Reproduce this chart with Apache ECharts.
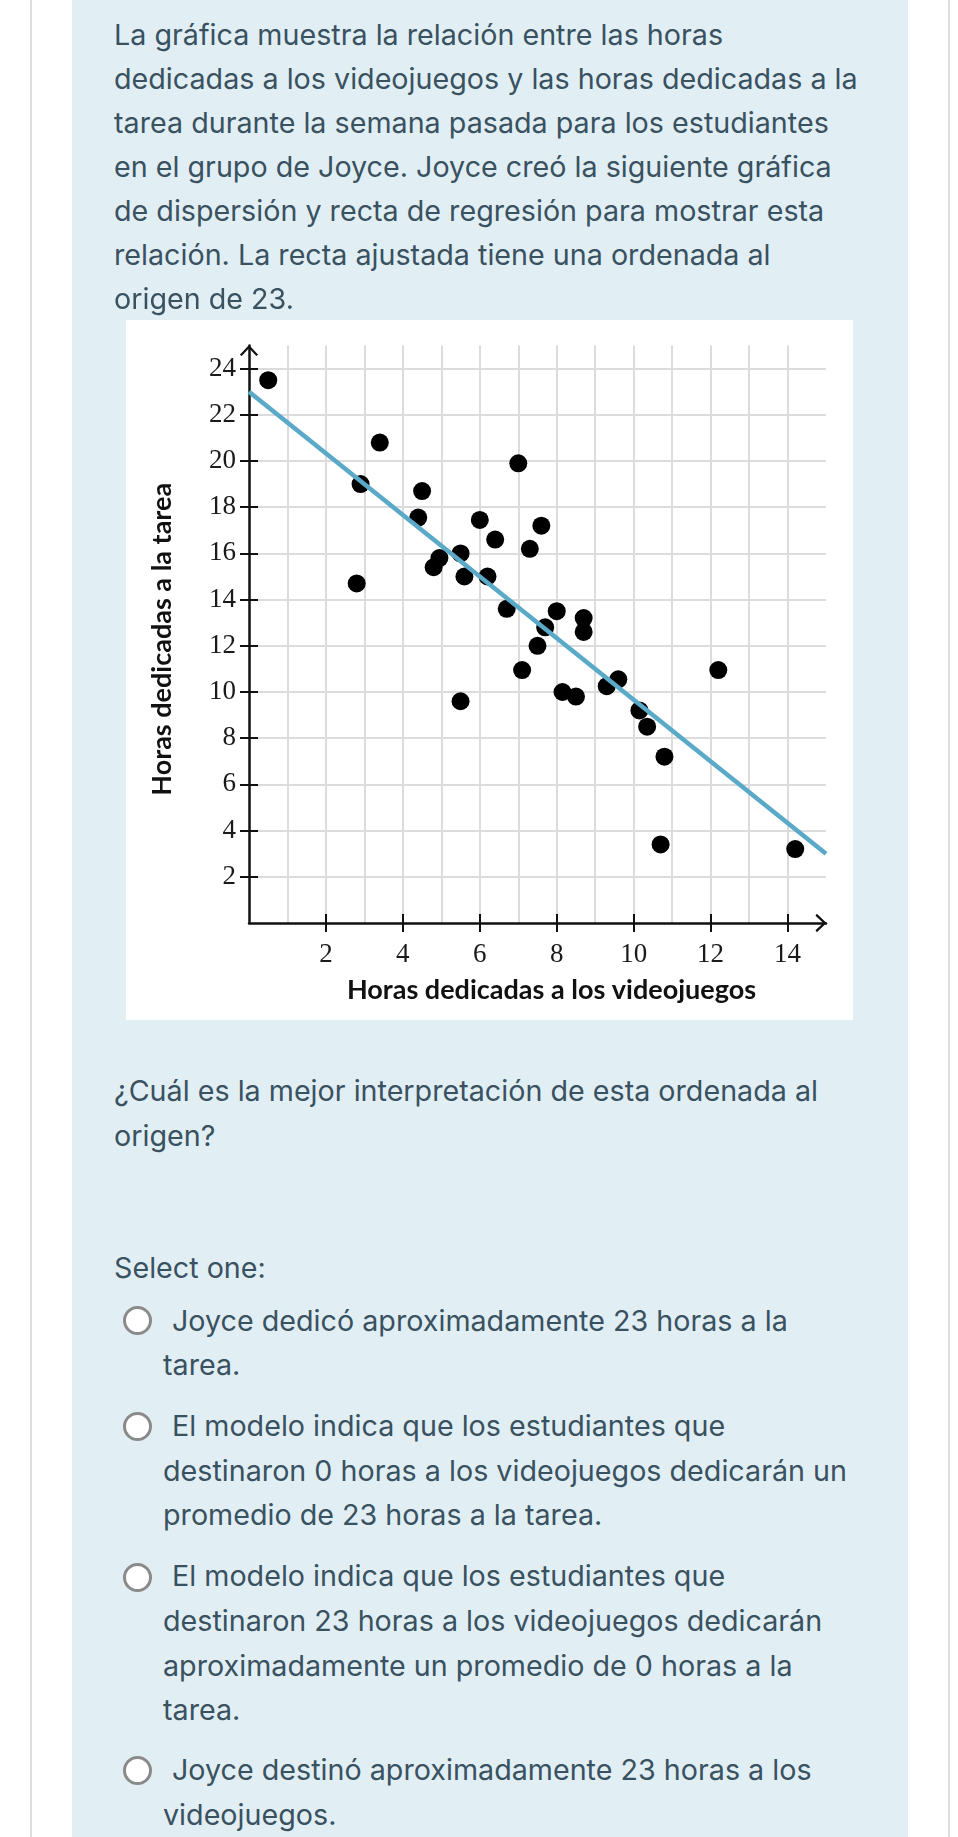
<!DOCTYPE html>
<html>
<head>
<meta charset="utf-8">
<script src="https://cdn.jsdelivr.net/npm/echarts@6/dist/echarts.min.js"></script>
<style>
html,body{margin:0;padding:0;background:#fff;}
#page{position:relative;width:958px;height:1837px;overflow:hidden;background:#fff;}
.border{position:absolute;top:0;width:2px;height:1837px;background:#dedede;}
#panel{position:absolute;left:72px;top:0;width:836px;height:1837px;background:#e1eff5;}
.t{position:absolute;white-space:nowrap;color:#3a5160;font-family:Inter,'Noto Sans',sans-serif;line-height:44px;height:44px;}
.radio{position:absolute;width:23px;height:23px;border:3px solid #8a8a8a;border-radius:50%;background:#fff;}
#chart{position:absolute;left:126px;top:320px;width:727px;height:700px;background:#fff;}
</style>
</head>
<body>
<div id="page">
  <div class="border" style="left:30px"></div>
  <div class="border" style="left:948px"></div>
  <div id="panel"></div>
  <div id="chart"></div>
</div>
<script>
// ---- chart data ----
const xTickLabels = [2, 4, 6, 8, 10, 12, 14];
const yTickLabels = [2, 4, 6, 8, 10, 12, 14, 16, 18, 20, 22, 24];
const xRange = [0, 15];
const yRange = [0, 25];
const videoHours = [0.5, 3.4, 2.9, 4.5, 7.0, 4.4, 6.0, 7.6, 6.4, 7.3, 5.5, 4.95, 4.8, 5.6, 6.2, 2.8, 6.7,
  8.0, 8.7, 8.7, 7.7, 7.5, 7.1, 5.5, 8.15, 8.5, 9.3, 9.6, 10.15, 10.35, 10.8, 12.2, 10.7, 14.2];
const homeworkHours = [23.5, 20.8, 19.0, 18.7, 19.9, 17.55, 17.45, 17.2, 16.6, 16.2, 16.0, 15.8, 15.4, 15.0, 15.0, 14.7, 13.6,
  13.5, 13.2, 12.6, 12.8, 12.0, 10.95, 9.6, 10.0, 9.8, 10.25, 10.55, 9.2, 8.5, 7.2, 10.95, 3.4, 3.2];
const intercept = 23;
const slope = -4 / 3;
const xTitle = 'Horas dedicadas a los videojuegos';
const yTitle = 'Horas dedicadas a la tarea';

// ---- page text ----
const textLines = [
  ['La gráfica muestra la relación entre las horas', 114, 35],
  ['dedicadas a los videojuegos y las horas dedicadas a la', 114, 79],
  ['tarea durante la semana pasada para los estudiantes', 114, 123],
  ['en el grupo de Joyce. Joyce creó la siguiente gráfica', 114, 167],
  ['de dispersión y recta de regresión para mostrar esta', 114, 211],
  ['relación. La recta ajustada tiene una ordenada al', 114, 255],
  ['origen de 23.', 114, 299],
  ['¿Cuál es la mejor interpretación de esta ordenada al', 114, 1091],
  ['origen?', 114, 1136],
  ['Select one:', 114, 1268],
  ['Joyce dedicó aproximadamente 23 horas a la', 172, 1321],
  ['tarea.', 163, 1365],
  ['El modelo indica que los estudiantes que', 172, 1426],
  ['destinaron 0 horas a los videojuegos dedicarán un', 163, 1471],
  ['promedio de 23 horas a la tarea.', 163, 1515],
  ['El modelo indica que los estudiantes que', 172, 1576],
  ['destinaron 23 horas a los videojuegos dedicarán', 163, 1621],
  ['aproximadamente un promedio de 0 horas a la', 163, 1666],
  ['tarea.', 163, 1710],
  ['Joyce destinó aproximadamente 23 horas a los', 172, 1770],
  ['videojuegos.', 163, 1815]
];
const radioCenters = [1320, 1426, 1577, 1770];

const page = document.getElementById('page');
const cv = document.createElement('canvas').getContext('2d');
cv.font = '100px Inter';
const fitW = cv.measureText(textLines[1][0]).width;
const fontSize = 100 * 744 / fitW;
textLines.forEach(([s, x, cy]) => {
  const d = document.createElement('div');
  d.className = 't';
  d.textContent = s;
  d.style.left = x + 'px';
  d.style.top = (cy - 22) + 'px';
  d.style.fontSize = fontSize.toFixed(2) + 'px';
  page.appendChild(d);
});
radioCenters.forEach(cy => {
  const r = document.createElement('div');
  r.className = 'radio';
  r.style.left = (137 - 14.5) + 'px';
  r.style.top = (cy - 14.5) + 'px';
  page.appendChild(r);
});

// ---- chart ----
const chevron = 'path://M10,0 L20,10.5 L18,12 L10,3.5 L2,12 L0,10.5 Z';
const axisColor = '#111';
const gridColor = '#dcdcdc';
const labelFont = { fontFamily: 'Liberation Serif', fontSize: 27, color: '#1a1a1a' };
const titleFont = { fontFamily: 'Lato', fontWeight: 'bold', fontSize: 27, color: '#111' };

const scatterData = videoHours.map((x, i) => [x, homeworkHours[i]]);
const fitData = xRange.map(x => [x, intercept + slope * x]);

function gridAxis(range, interval) {
  return {
    type: 'value', min: range[0], max: range[1], interval: interval,
    axisLine: { show: false, onZero: false }, axisTick: { show: false }, axisLabel: { show: false },
    splitLine: { show: true, showMinLine: false, showMaxLine: false, lineStyle: { color: gridColor, width: 2 } }
  };
}
function mainAxis(range, ticks, pos, extra) {
  return Object.assign({
    type: 'value', min: range[0], max: range[1], position: pos,
    axisLine: { show: true, onZero: false, symbol: ['none', chevron], symbolSize: [19, 11], symbolOffset: [0, -5],
      lineStyle: { color: axisColor, width: 2.5 } },
    axisTick: { show: true, customValues: ticks, length: 9, inside: false, lineStyle: { color: axisColor, width: 2 } },
    axisLabel: Object.assign({ show: true, customValues: ticks }, labelFont),
    splitLine: { show: false }
  }, extra);
}
function innerTickAxis(range, ticks, pos) {
  return {
    type: 'value', min: range[0], max: range[1], position: pos,
    axisLine: { show: false, onZero: false },
    axisTick: { show: true, customValues: ticks, length: 9, inside: true, lineStyle: { color: axisColor, width: 2 } },
    axisLabel: { show: false }, splitLine: { show: false }
  };
}

const chart = echarts.init(document.getElementById('chart'), null, { renderer: 'canvas' });
chart.setOption({
  animation: false,
  backgroundColor: '#fff',
  grid: { left: 123, right: 27, top: 25.5, bottom: 97, containLabel: false, outerBoundsMode: 'none' },
  xAxis: [
    gridAxis(xRange, 1),
    mainAxis(xRange, xTickLabels, 'bottom', {
      name: xTitle, nameLocation: 'middle', nameGap: 54,
      nameTextStyle: Object.assign({ padding: [0, 0, 0, 28] }, titleFont),
      axisLabel: Object.assign({ show: true, customValues: xTickLabels, margin: 18 }, labelFont)
    }),
    innerTickAxis(xRange, xTickLabels, 'bottom')
  ],
  yAxis: [
    gridAxis(yRange, 2),
    mainAxis(yRange, yTickLabels, 'left', {
      name: yTitle, nameLocation: 'middle', nameGap: 73, nameRotate: 90,
      nameTextStyle: Object.assign({ padding: [0, 10, 0, 0] }, titleFont),
      axisLabel: Object.assign({ show: true, customValues: yTickLabels, margin: 13 }, labelFont)
    }),
    innerTickAxis(yRange, yTickLabels, 'left')
  ],
  series: [
    {
      type: 'scatter', xAxisIndex: 1, yAxisIndex: 1, data: scatterData,
      symbol: 'circle', symbolSize: 18, itemStyle: { color: '#000', opacity: 1 }, z: 3
    },
    {
      type: 'line', xAxisIndex: 1, yAxisIndex: 1, data: fitData,
      showSymbol: false, symbol: 'none', lineStyle: { color: '#5aa9c8', width: 4.5 }, z: 4, silent: true
    }
  ]
});
</script>
</body>
</html>
